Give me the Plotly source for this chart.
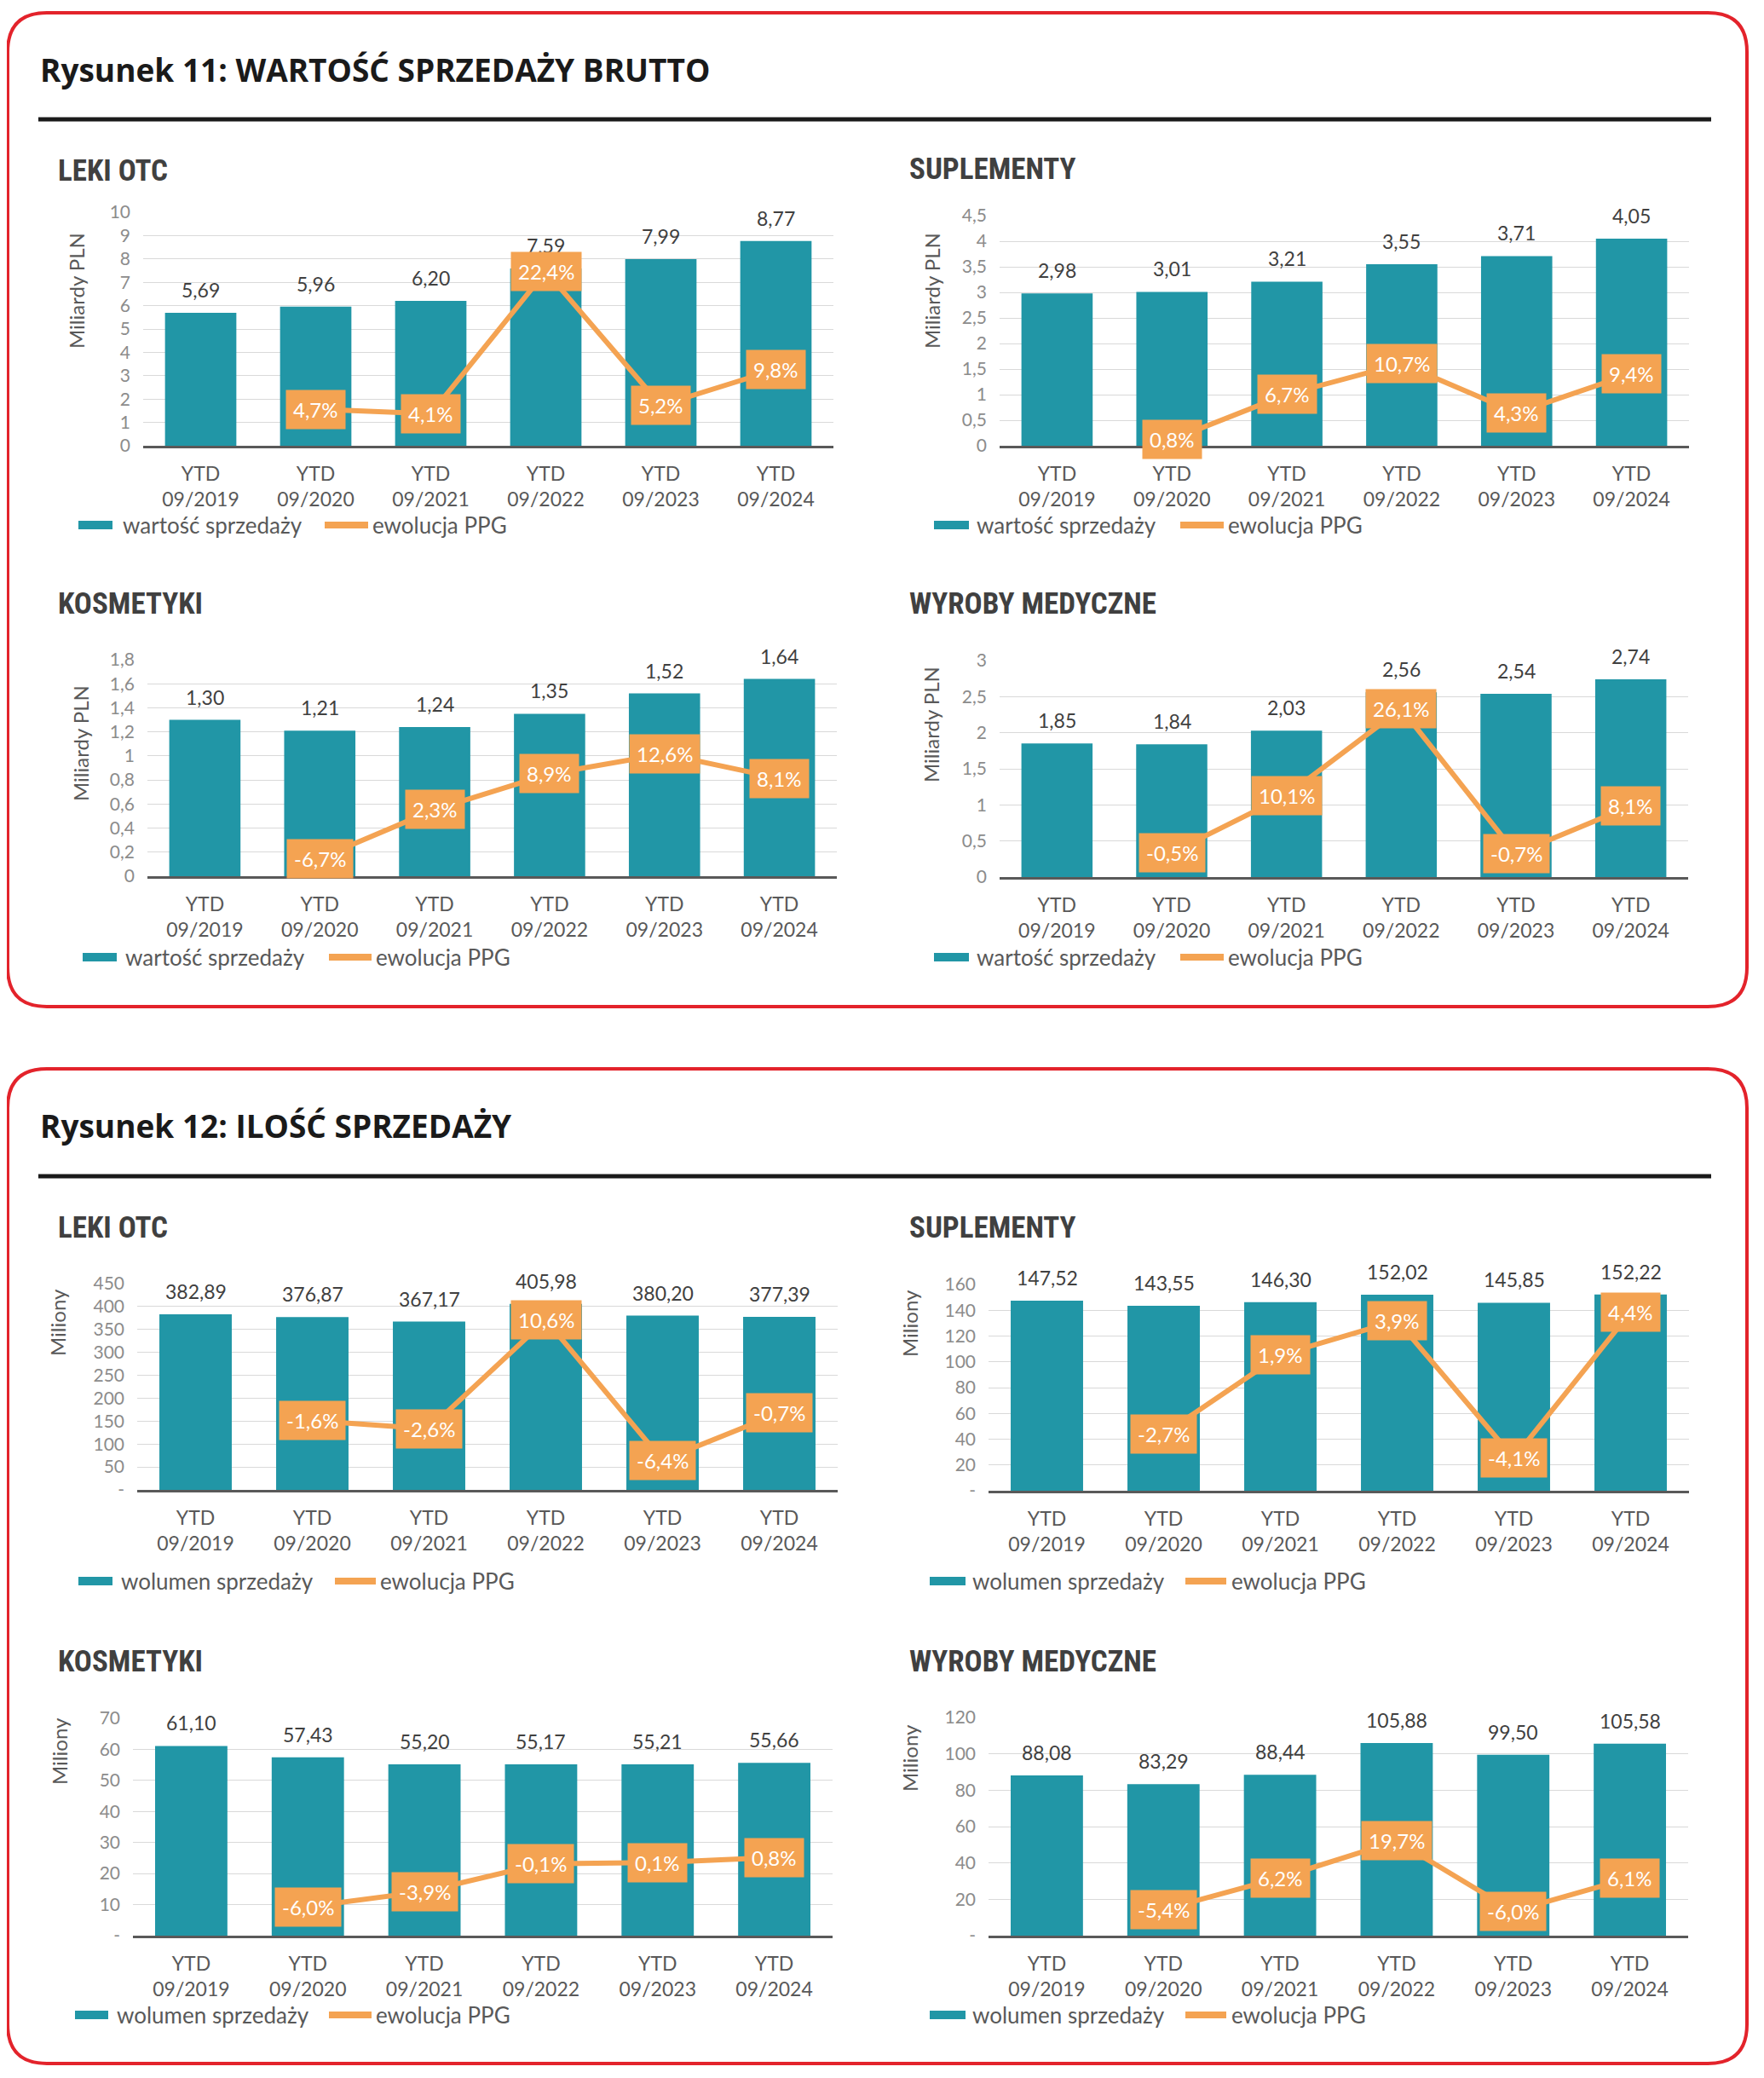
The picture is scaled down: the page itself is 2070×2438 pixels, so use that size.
import plotly.graph_objects as go

# ---------------- DATA ----------------
categories = ["YTD<br>09/2019", "YTD<br>09/2020", "YTD<br>09/2021",
              "YTD<br>09/2022", "YTD<br>09/2023", "YTD<br>09/2024"]

# Rysunek 11: wartość sprzedaży brutto (mld PLN) + ewolucja PPG (%)
otc_val = [5.69, 5.96, 6.20, 7.59, 7.99, 8.77]
otc_val_ppg = [None, 4.7, 4.1, 22.4, 5.2, 9.8]
sup_val = [2.98, 3.01, 3.21, 3.55, 3.71, 4.05]
sup_val_ppg = [None, 0.8, 6.7, 10.7, 4.3, 9.4]
kos_val = [1.30, 1.21, 1.24, 1.35, 1.52, 1.64]
kos_val_ppg = [None, -6.7, 2.3, 8.9, 12.6, 8.1]
med_val = [1.85, 1.84, 2.03, 2.56, 2.54, 2.74]
med_val_ppg = [None, -0.5, 10.1, 26.1, -0.7, 8.1]

# Rysunek 12: ilość sprzedaży (mln) + ewolucja PPG (%)
otc_vol = [382.89, 376.87, 367.17, 405.98, 380.20, 377.39]
otc_vol_ppg = [None, -1.6, -2.6, 10.6, -6.4, -0.7]
sup_vol = [147.52, 143.55, 146.30, 152.02, 145.85, 152.22]
sup_vol_ppg = [None, -2.7, 1.9, 3.9, -4.1, 4.4]
kos_vol = [61.10, 57.43, 55.20, 55.17, 55.21, 55.66]
kos_vol_ppg = [None, -6.0, -3.9, -0.1, 0.1, 0.8]
med_vol = [88.08, 83.29, 88.44, 105.88, 99.50, 105.58]
med_vol_ppg = [None, -5.4, 6.2, 19.7, -6.0, 6.1]

# tick labels
yt_otc_val = [0, 1, 2, 3, 4, 5, 6, 7, 8, 9, 10]
yl_otc_val = ["0", "1", "2", "3", "4", "5", "6", "7", "8", "9", "10"]
yt_sup_val = [0, 0.5, 1, 1.5, 2, 2.5, 3, 3.5, 4, 4.5]
yl_sup_val = ["0", "0,5", "1", "1,5", "2", "2,5", "3", "3,5", "4", "4,5"]
yt_kos_val = [0, 0.2, 0.4, 0.6, 0.8, 1.0, 1.2, 1.4, 1.6, 1.8]
yl_kos_val = ["0", "0,2", "0,4", "0,6", "0,8", "1", "1,2", "1,4", "1,6", "1,8"]
yt_med_val = [0, 0.5, 1, 1.5, 2, 2.5, 3]
yl_med_val = ["0", "0,5", "1", "1,5", "2", "2,5", "3"]
yt_otc_vol = [0, 50, 100, 150, 200, 250, 300, 350, 400, 450]
yl_otc_vol = ["-", "50", "100", "150", "200", "250", "300", "350", "400", "450"]
yt_sup_vol = [0, 20, 40, 60, 80, 100, 120, 140, 160]
yl_sup_vol = ["-", "20", "40", "60", "80", "100", "120", "140", "160"]
yt_kos_vol = [0, 10, 20, 30, 40, 50, 60, 70]
yl_kos_vol = ["-", "10", "20", "30", "40", "50", "60", "70"]
yt_med_vol = [0, 20, 40, 60, 80, 100, 120]
yl_med_vol = ["-", "20", "40", "60", "80", "100", "120"]

# ---------------- STYLE / LAYOUT ----------------
PAGE_MARGIN = 8          # default <body> margin of the html page
W, H = 2070 - 2 * PAGE_MARGIN, 2438 - 2 * PAGE_MARGIN
TEAL = "#2196A6"
ORANGE = "#F4A352"
RED = "#E3232B"
FONT = "Lato, 'Noto Sans', sans-serif"
TITLE_FONT = "'Open Sans', Roboto, sans-serif"
SUB_FONT = "'Roboto Condensed', 'Liberation Sans Narrow', 'Liberation Sans', sans-serif"


def px(x):
    return (x - PAGE_MARGIN) / W


def py(y):
    return 1 - (y - PAGE_MARGIN) / H


panels = [
    dict(title="LEKI OTC", bars=otc_val, ppg=otc_val_ppg, yt=yt_otc_val, yl=yl_otc_val,
         yr=[0, 10], y2r=[0, 30], box=(168, 978, 249, 523), ttl=(66, 200),
         ytitle="Miliardy PLN", ytp=(89, 341), leg_y=616,
         leg=(92, 132, 142, 381, 432, 435), bar_name="wartość sprzedaży"),
    dict(title="SUPLEMENTY", bars=sup_val, ppg=sup_val_ppg, yt=yt_sup_val, yl=yl_sup_val,
         yr=[0, 4.5], y2r=[0, 30], box=(1173, 1982, 253, 523), ttl=(1065, 199),
         ytitle="Miliardy PLN", ytp=(1093, 341), leg_y=616,
         leg=(1096, 1137, 1144, 1385, 1436, 1439), bar_name="wartość sprzedaży"),
    dict(title="KOSMETYKI", bars=kos_val, ppg=kos_val_ppg, yt=yt_kos_val, yl=yl_kos_val,
         yr=[0, 1.8], y2r=[-10, 30], box=(173, 982, 774, 1028), ttl=(66, 709),
         ytitle="Miliardy PLN", ytp=(94, 872), leg_y=1123,
         leg=(97, 137, 145, 386, 436, 439), bar_name="wartość sprzedaży"),
    dict(title="WYROBY MEDYCZNE", bars=med_val, ppg=med_val_ppg, yt=yt_med_val, yl=yl_med_val,
         yr=[0, 3], y2r=[-5, 35], box=(1173, 1981, 775, 1029), ttl=(1065, 709),
         ytitle="Miliardy PLN", ytp=(1093, 850), leg_y=1123,
         leg=(1096, 1137, 1144, 1385, 1436, 1439), bar_name="wartość sprzedaży"),
    dict(title="LEKI OTC", bars=otc_vol, ppg=otc_vol_ppg, yt=yt_otc_vol, yl=yl_otc_vol,
         yr=[0, 450], y2r=[-10, 15], box=(161, 983, 1506, 1748), ttl=(66, 1440),
         ytitle="Miliony", ytp=(68, 1552), leg_y=1855,
         leg=(92, 132, 140, 393, 441, 444), bar_name="wolumen sprzedaży"),
    dict(title="SUPLEMENTY", bars=sup_vol, ppg=sup_vol_ppg, yt=yt_sup_vol, yl=yl_sup_vol,
         yr=[0, 160], y2r=[-6, 6], box=(1160, 1982, 1507, 1749), ttl=(1065, 1440),
         ytitle="Miliony", ytp=(1067, 1553), leg_y=1855,
         leg=(1091, 1133, 1139, 1391, 1439, 1443), bar_name="wolumen sprzedaży"),
    dict(title="KOSMETYKI", bars=kos_vol, ppg=kos_vol_ppg, yt=yt_kos_vol, yl=yl_kos_vol,
         yr=[0, 70], y2r=[-10, 20], box=(156, 977, 2016, 2271), ttl=(66, 1949),
         ytitle="Miliony", ytp=(69, 2055), leg_y=2364,
         leg=(88, 127, 135, 386, 436, 439), bar_name="wolumen sprzedaży"),
    dict(title="WYROBY MEDYCZNE", bars=med_vol, ppg=med_vol_ppg, yt=yt_med_vol, yl=yl_med_vol,
         yr=[0, 120], y2r=[-15, 65], box=(1160, 1981, 2015, 2271), ttl=(1065, 1949),
         ytitle="Miliony", ytp=(1067, 2063), leg_y=2364,
         leg=(1091, 1133, 1139, 1391, 1439, 1443), bar_name="wolumen sprzedaży"),
]

fig = go.Figure()
layout = {}
annotations = []
shapes = []


def fmt_num(v, nd):
    return f"{v:.{nd}f}".replace(".", ",")


for i, p in enumerate(panels, start=1):
    xk = "xaxis" if i == 1 else f"xaxis{i}"
    xr = "x" if i == 1 else f"x{i}"
    kb = 2 * i - 1
    kl = 2 * i
    ybk = "yaxis" if kb == 1 else f"yaxis{kb}"
    ybr = "y" if kb == 1 else f"y{kb}"
    ylk = f"yaxis{kl}"
    ylr = f"y{kl}"
    x0, x1, y0, y1 = p["box"]

    fig.add_trace(go.Bar(x=categories, y=p["bars"], xaxis=xr, yaxis=ybr,
                         marker=dict(color=TEAL, line=dict(width=0)),
                         showlegend=False, hoverinfo="skip"))
    fig.add_trace(go.Scatter(x=categories, y=p["ppg"], xaxis=xr, yaxis=ylr,
                             mode="lines", line=dict(color=ORANGE, width=6),
                             showlegend=False, hoverinfo="skip", cliponaxis=False))

    layout[xk] = dict(domain=[px(x0), px(x1)], anchor=ybr, type="category",
                      showgrid=False, showline=True, linecolor="#595959", linewidth=3,
                      ticks="", ticklabelstandoff=10, automargin=False,
                      tickfont=dict(family=FONT, size=23, color="#595959"),
                      fixedrange=True)
    layout[ybk] = dict(domain=[py(y1), py(y0)], anchor=xr, range=p["yr"],
                       tickvals=p["yt"], ticktext=p["yl"], showgrid=True,
                       gridcolor="#D9D9D9", gridwidth=1, zeroline=False, showline=False,
                       ticks="", ticklabelstandoff=14, automargin=False,
                       tickfont=dict(family=FONT, size=21, color="#8C8C8C"),
                       fixedrange=True)
    layout[ylk] = dict(overlaying=ybr, anchor=xr, range=p["y2r"], visible=False,
                       showgrid=False, zeroline=False, fixedrange=True, automargin=False)

    # bar value labels
    for c, v in zip(categories, p["bars"]):
        annotations.append(dict(x=c, y=v, xref=xr, yref=ybr, text=fmt_num(v, 2),
                                showarrow=False, yanchor="middle", yshift=27,
                                font=dict(family=FONT, size=23, color="#404040")))
    # PPG boxes
    for c, v in zip(categories, p["ppg"]):
        if v is None:
            continue
        annotations.append(dict(x=c, y=v, xref=xr, yref=ylr, text=fmt_num(v, 1) + "%",
                                showarrow=False, bgcolor=ORANGE, borderpad=8,
                                font=dict(family=FONT, size=24, color="white")))
    # panel title
    annotations.append(dict(x=px(p["ttl"][0]), y=py(p["ttl"][1]), xref="paper", yref="paper",
                            text=f"<b>{p['title']}</b>", showarrow=False,
                            xanchor="left", yanchor="middle",
                            font=dict(family=SUB_FONT, size=35, color="#404040")))
    # y-axis title
    annotations.append(dict(x=px(p["ytp"][0]), y=py(p["ytp"][1]), xref="paper", yref="paper",
                            text=p["ytitle"], showarrow=False, textangle=-90,
                            xanchor="center", yanchor="middle",
                            font=dict(family=FONT, size=24, color="#595959")))
    # legend
    lx = p["leg"]
    ly = p["leg_y"]
    shapes.append(dict(type="rect", xref="paper", yref="paper",
                       x0=px(lx[0]), x1=px(lx[1]), y0=py(ly + 5), y1=py(ly - 5),
                       fillcolor=TEAL, line=dict(width=0)))
    annotations.append(dict(x=px(lx[2]), y=py(ly), xref="paper", yref="paper",
                            text=p["bar_name"], showarrow=False, xanchor="left",
                            yanchor="middle",
                            font=dict(family=FONT, size=26, color="#595959")))
    shapes.append(dict(type="line", xref="paper", yref="paper",
                       x0=px(lx[3]), x1=px(lx[4]), y0=py(ly), y1=py(ly),
                       line=dict(color=ORANGE, width=8)))
    annotations.append(dict(x=px(lx[5]), y=py(ly), xref="paper", yref="paper",
                            text="ewolucja PPG", showarrow=False, xanchor="left",
                            yanchor="middle",
                            font=dict(family=FONT, size=26, color="#595959")))


def rbox(x0, y0, x1, y1, r):
    return (f"M {px(x0 + r)},{py(y0)} L {px(x1 - r)},{py(y0)} "
            f"Q {px(x1)},{py(y0)} {px(x1)},{py(y0 + r)} L {px(x1)},{py(y1 - r)} "
            f"Q {px(x1)},{py(y1)} {px(x1 - r)},{py(y1)} L {px(x0 + r)},{py(y1)} "
            f"Q {px(x0)},{py(y1)} {px(x0)},{py(y1 - r)} L {px(x0)},{py(y0 + r)} "
            f"Q {px(x0)},{py(y0)} {px(x0 + r)},{py(y0)} Z")


figure_boxes = [
    ("Rysunek 11: WARTOŚĆ SPRZEDAŻY BRUTTO", (9, 15, 2050, 1181), 81, 140),
    ("Rysunek 12: ILOŚĆ SPRZEDAŻY", (9, 1254, 2050, 2421), 1320, 1380),
]
for text, (bx0, by0, bx1, by1), ty, ly in figure_boxes:
    shapes.append(dict(type="path", xref="paper", yref="paper", path=rbox(bx0, by0, bx1, by1, 46),
                       line=dict(color=RED, width=4), fillcolor="rgba(0,0,0,0)", layer="below"))
    shapes.append(dict(type="line", xref="paper", yref="paper", x0=px(45), x1=px(2008),
                       y0=py(ly), y1=py(ly), line=dict(color="#1A1A1A", width=5)))
    annotations.append(dict(x=px(45), y=py(ty), xref="paper", yref="paper",
                            text=f"<b>{text}</b>", showarrow=False, xanchor="left",
                            yanchor="middle",
                            font=dict(family=TITLE_FONT, size=37, color="#1A1A1A")))

fig.update_layout(width=W, height=H,
                  margin=dict(l=0, r=0, t=0, b=0, pad=0, autoexpand=False),
                  paper_bgcolor="white", plot_bgcolor="white",
                  bargap=0.38, showlegend=False,
                  annotations=annotations, shapes=shapes,
                  font=dict(family=FONT, color="#595959"), **layout)

fig.write_html("out.html")
